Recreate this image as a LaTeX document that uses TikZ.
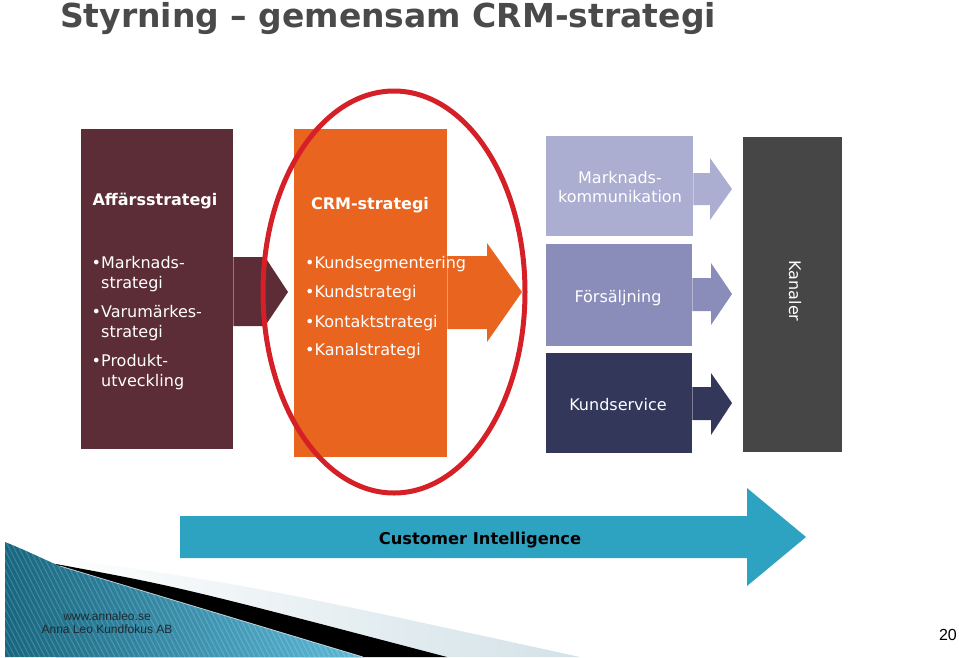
\documentclass[tikz,border=0pt]{standalone}
\usepackage{fontspec}
\setmainfont{DejaVu Sans}
\newfontfamily\footfont{Liberation Sans}
\usepackage{xcolor}
\usepackage{tikz}
\usetikzlibrary{calc}
\definecolor{maroon}{HTML}{5C2D37}
\definecolor{crmorange}{HTML}{E9651F}
\definecolor{lavlight}{HTML}{ABAED0}
\definecolor{lavmid}{HTML}{8A8DBA}
\definecolor{navy}{HTML}{33375A}
\definecolor{kanalgrey}{HTML}{464646}
\definecolor{citeal}{HTML}{2EA3C1}
\definecolor{ringred}{HTML}{D52027}
\definecolor{titlegrey}{HTML}{4A4A4A}
\definecolor{footc}{HTML}{1E2A33}
\definecolor{tealdark}{HTML}{17667F}
\definecolor{teallight}{HTML}{5DB9D8}
\definecolor{lightband}{HTML}{D3E2E8}
\tikzset{
  box/.style={inner sep=0pt, anchor=north west},
  title/.style={text=titlegrey, font=\bfseries\fontsize{33}{36}\selectfont, inner sep=0pt, anchor=base},
  head/.style={text=white, font=\bfseries\fontsize{16}{19}\selectfont, inner sep=0pt, anchor=base},
  item/.style={text=white, font=\fontsize{16}{19}\selectfont, inner sep=0pt, anchor=base west},
  lbl/.style={text=white, font=\fontsize{16}{19}\selectfont, inner sep=0pt, anchor=base},
  foot/.style={text=footc, font=\footfont\fontsize{12}{14}\selectfont, inner sep=0pt, anchor=base},
  ring/.style={draw=ringred, line width=5pt}
}

\begin{document}
\begin{tikzpicture}[x=1pt,y=-1pt]
  \useasboundingbox (0,0) rectangle (959,657);

  % title
  \node[title] (ttl) at (388,27) {Styrning – gemensam CRM-strategi};

  % boxes
  \node[box, fill=maroon, minimum width=152, minimum height=320] (affbox) at (81,129) {};
  \node[box, fill=crmorange, minimum width=153, minimum height=328] (crmbox) at (294,129) {};
  \node[box, fill=lavlight, minimum width=147, minimum height=100] (mkbox) at (546,136) {};
  \node[box, fill=lavmid, minimum width=146, minimum height=102] (fsbox) at (546,244) {};
  \node[box, fill=navy, minimum width=146, minimum height=100] (ksbox) at (546,353) {};
  \node[box, fill=kanalgrey, minimum width=99, minimum height=315] (kanbox) at (743,137) {};

  % block arrows
  \fill[maroon] (affbox.east |- 0,257) -- (265,257) -- (288,292) -- (265,326) -- (affbox.east |- 0,326) -- cycle;
  \fill[crmorange] (crmbox.east |- 0,256) -- (487,256) -- (487,243) -- (522,292)
    -- (487,342) -- (487,329) -- (crmbox.east |- 0,329) -- cycle;
  \fill[lavlight] (mkbox.east |- 0,173) -- (710,173) -- (710,158) -- (732,189)
    -- (710,220) -- (710,205) -- (mkbox.east |- 0,205) -- cycle;
  \fill[lavmid] (fsbox.east |- 0,278) -- (711,278) -- (711,263) -- (732,294)
    -- (711,325) -- (711,311) -- (fsbox.east |- 0,311) -- cycle;
  \fill[navy] (ksbox.east |- 0,387) -- (711,387) -- (711,373) -- (732,403)
    -- (711,435) -- (711,420) -- (ksbox.east |- 0,420) -- cycle;
  \fill[citeal] (180,516) -- (747,516) -- (747,488) -- (806,537)
    -- (747,586) -- (747,558) -- (180,558) -- cycle;

  % texts in the boxes
  \node[head] (afftxt) at (155,205) {Affärsstrategi};
  \node[item] (aff1) at (91.5,268) {•Marknads-};
  \node[item] (aff1b) at (101,288) {strategi};
  \node[item] (aff2) at (91.5,317) {•Varumärkes-};
  \node[item] (aff2b) at (101,337) {strategi};
  \node[item] (aff3) at (91.5,366) {•Produkt-};
  \node[item] (aff3b) at (101,386) {utveckling};

  \node[head] (crmtxt) at (370,209) {CRM-strategi};
  \node[item] (crm1) at (305,268) {•Kundsegmentering};
  \node[item] (crm2) at (305,297) {•Kundstrategi};
  \node[item] (crm3) at (305,327) {•Kontaktstrategi};
  \node[item] (crm4) at (305,355) {•Kanalstrategi};

  \node[lbl] (mktxt) at (620,183) {Marknads-};
  \node[lbl] (mktxtb) at (620,202) {kommunikation};
  \node[lbl] (fstxt) at (618,302) {Försäljning};
  \node[lbl] (kstxt) at (618,410) {Kundservice};
  \node[lbl, anchor=center, rotate=-90] (kantxt) at (795,291) {Kanaler};

  \node[head, text=black, font=\bfseries\fontsize{16.3}{19}\selectfont] (citxt) at (480,544) {Customer Intelligence};

  % red ring round the CRM column
  \draw[ring] (394,292) ellipse [x radius=131, y radius=201];

  % swoosh bottom left
  \shade[left color=white, right color=lightband] (45,556) .. controls (250,585) .. (580,657) -- (45,657) -- cycle;
  \fill[black] (56,564) .. controls (180,587) .. (447,657) -- (56,657) -- cycle;
  \shade[left color=tealdark, right color=teallight] (5,542) .. controls (30,552) and (45,560) .. (60,566)
    -- (363,657) -- (5,657) -- cycle;
  \begin{scope}
    \clip (5,542) .. controls (30,552) and (45,560) .. (60,566) -- (363,657) -- (5,657) -- cycle;
    \foreach \s in {-80,-75,...,360}
      \draw[white, opacity=0.18, line width=1pt] (\s,540) -- (\s+60,657);
  \end{scope}
  \draw[white, opacity=0.7, line width=0.8pt] (60,566) -- (363,657);

  % footer
  \node[foot] (web) at (107,620) {www.annaleo.se};
  \node[foot] (firm) at (107,633) {Anna Leo Kundfokus AB};
  \node[foot, text=black, font=\footfont\fontsize{16}{18}\selectfont, anchor=base east] (pagenr) at (957,640) {20};
\end{tikzpicture}
\end{document}
